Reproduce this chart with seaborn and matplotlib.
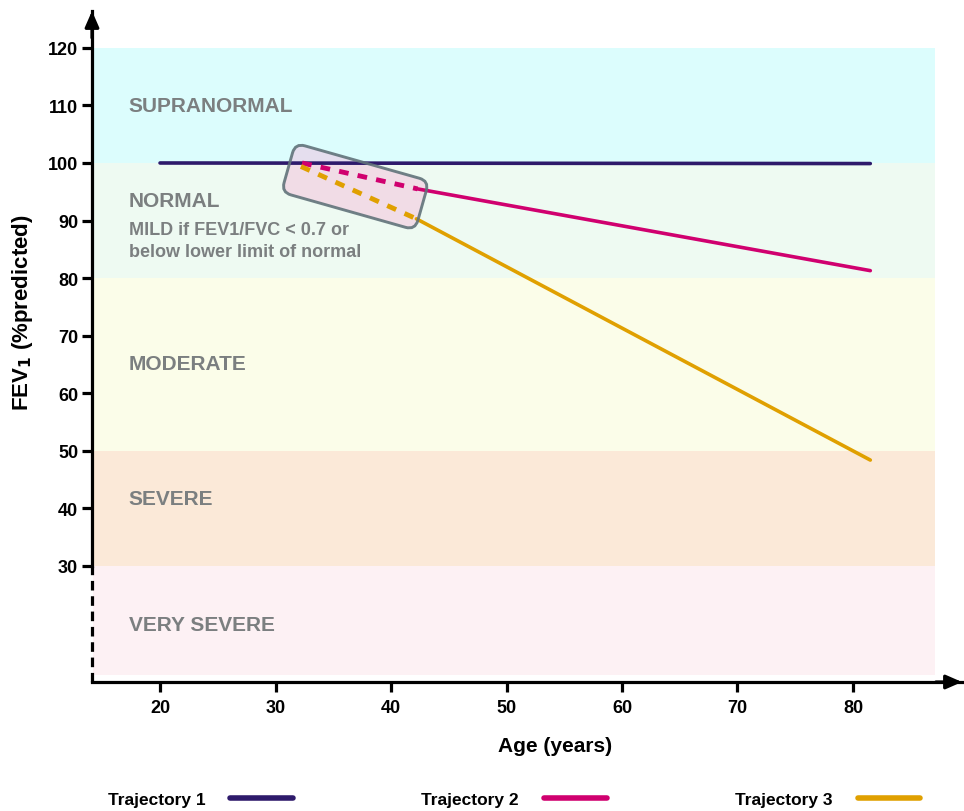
import numpy as np
import pandas as pd
import matplotlib
matplotlib.use("Agg")
import matplotlib.pyplot as plt
import seaborn as sns
from matplotlib.patches import FancyBboxPatch
from matplotlib.lines import Line2D
import matplotlib.transforms as mtransforms
from matplotlib import font_manager

# ---------------- data ----------------
trajectories = ["Trajectory 1", "Trajectory 2", "Trajectory 3"]
traj_colors = ["#2e1a6b", "#d0006f", "#e0a000"]

t1_age = [20.0, 81.5]
t1_fev = [100.0, 99.9]
t2_dash_age = [32.3, 42.3]
t2_dash_fev = [100.0, 95.5]
t2_solid_age = [42.3, 81.5]
t2_solid_fev = [95.5, 81.3]
t3_dash_age = [32.2, 42.2]
t3_dash_fev = [99.4, 90.3]
t3_solid_age = [42.2, 81.5]
t3_solid_fev = [90.3, 48.4]

band_names = ["SUPRANORMAL", "NORMAL", "MODERATE", "SEVERE", "VERY SEVERE"]
band_low = [100, 80, 50, 30, 11]
band_high = [120, 100, 80, 50, 30]
band_colors = ["#dcfdfd", "#eefaf2", "#fbfde9", "#fbe9d8", "#fdf1f4"]
band_label_y = [110.0, 93.4, 65.1, 41.8, 19.9]
mild_text = "MILD if FEV1/FVC < 0.7 or\nbelow lower limit of normal"

x_ticks = [20, 30, 40, 50, 60, 70, 80]
y_ticks = [30, 40, 50, 60, 70, 80, 90, 100, 110, 120]

# ---------------- style ----------------
sns.set_theme(style="white")
plt.rcParams["font.family"] = ["Liberation Sans", "DejaVu Sans"]
plt.rcParams["font.weight"] = "bold"
plt.rcParams["mathtext.default"] = "bf"
plt.rcParams["text.color"] = "black"

names = {f.name for f in font_manager.fontManager.ttflist}
legend_family = ["Liberation Sans Narrow", "Liberation Sans"] if "Liberation Sans Narrow" in names else ["Liberation Sans"]

W, H = 964, 812
fig = plt.figure(figsize=(W / 100, H / 100), dpi=100)
ax_left, ax_right, ax_bottom, ax_top = 92, 962, 683, 12
ax = fig.add_axes([ax_left / W, (H - ax_bottom) / H, (ax_right - ax_left) / W, (ax_bottom - ax_top) / H])
ax.set_facecolor("none")

xmin, xmax = 14.11, 89.44
ymin, ymax = 9.85, 126.4
ax.set_xlim(xmin, xmax)
ax.set_ylim(ymin, ymax)

# bands
band_right = 87.1
for lo, hi, c in zip(band_low, band_high, band_colors):
    ax.fill_between([xmin + 0.05, band_right], lo, hi, color=c, lw=0, zorder=0)

label_x = 17.3
for name, yy in zip(band_names, band_label_y):
    ax.text(label_x, yy, name, color="#7b7f80", fontsize=15, fontweight="bold", va="center", ha="left", zorder=1)
ax.text(label_x, 86.6, mild_text, color="#7b7f80", fontsize=13, fontweight="bold", va="center", ha="left",
        linespacing=1.38, zorder=1)

# lines
lw = 2.6
dash_style = (0, (2.0, 1.9))
sns.lineplot(x=t1_age, y=t1_fev, ax=ax, color=traj_colors[0], lw=lw, zorder=3)
sns.lineplot(x=t2_dash_age, y=t2_dash_fev, ax=ax, color=traj_colors[1], lw=lw + 0.9, zorder=3,
             linestyle=dash_style)
sns.lineplot(x=t2_solid_age, y=t2_solid_fev, ax=ax, color=traj_colors[1], lw=lw, zorder=3)
sns.lineplot(x=t3_dash_age, y=t3_dash_fev, ax=ax, color=traj_colors[2], lw=lw + 0.9, zorder=3,
             linestyle=dash_style)
sns.lineplot(x=t3_solid_age, y=t3_solid_fev, ax=ax, color=traj_colors[2], lw=lw, zorder=3)

# highlight box (rotated rounded rectangle): fill below lines, outline above
cx, cy = ax.transData.transform((36.9, 95.9))
bw, bh = 139, 51
box_tf = mtransforms.Affine2D().rotate_deg(-15.8).translate(cx, cy)
box_fill = FancyBboxPatch((-bw / 2, -bh / 2), bw, bh, boxstyle="round,pad=0,rounding_size=10",
                          facecolor=(0.98, 0.60, 0.80, 0.30), edgecolor="none", transform=box_tf, zorder=2)
box_edge = FancyBboxPatch((-bw / 2, -bh / 2), bw, bh, boxstyle="round,pad=0,rounding_size=10",
                          facecolor="none", edgecolor=(0.38, 0.45, 0.48, 0.9), lw=2.1, transform=box_tf, zorder=4)
ax.add_patch(box_fill)
ax.add_patch(box_edge)

# spines / axes
for s in ["top", "right"]:
    ax.spines[s].set_visible(False)
for s in ["left", "bottom"]:
    ax.spines[s].set_linewidth(2.3)
    ax.spines[s].set_color("black")
    ax.spines[s].set_zorder(5)
ax.spines["left"].set_bounds(30, ymax)
ax.plot([xmin, xmin], [ymin, 30], color="black", lw=2.3, linestyle=(0, (3, 1.8)), clip_on=False, zorder=5)

ax.annotate("", xy=(0, 1.0), xytext=(0, 0.96), xycoords="axes fraction",
            arrowprops=dict(arrowstyle="-|>,head_length=0.8,head_width=0.35", color="black", lw=2.3,
                            shrinkA=0, shrinkB=0))
ax.annotate("", xy=(1.0, 0), xytext=(0.97, 0), xycoords="axes fraction",
            arrowprops=dict(arrowstyle="-|>,head_length=0.8,head_width=0.35", color="black", lw=2.3,
                            shrinkA=0, shrinkB=0))

ax.set_xticks(x_ticks)
ax.set_yticks(y_ticks)
ax.tick_params(axis="both", which="major", bottom=True, left=True, direction="out", length=7, width=2.3,
               colors="black", labelsize=13, labelcolor="black")
ax.tick_params(axis="y", pad=3)
ax.tick_params(axis="x", pad=5)
for lab in ax.get_xticklabels() + ax.get_yticklabels():
    lab.set_fontweight("bold")

ax.set_xlabel("Age (years)", fontsize=15, fontweight="bold", color="black")
ax.set_ylabel(r"FEV$_\mathbf{1}$ (%predicted)", fontsize=16, fontweight="bold", color="black")
ax.xaxis.set_label_coords((555 - ax_left) / (ax_right - ax_left), -(737 - ax_bottom) / (ax_bottom - ax_top))
ax.yaxis.set_label_coords(-(92 - 35) / (ax_right - ax_left), (683 - 313) / (ax_bottom - ax_top))
ax.grid(False)

# legend
handles = [Line2D([0], [0], color=c, lw=4) for c in traj_colors]
leg = fig.legend(handles, trajectories, loc="center", bbox_to_anchor=(514 / W, 1 - 800 / H), ncol=3,
                 frameon=False, markerfirst=False, handlelength=3.6, handletextpad=1.45, columnspacing=7.4,
                 prop=dict(family=legend_family, weight="bold", size=12.5), labelcolor="black")

fig.savefig("out.png", dpi=100)
